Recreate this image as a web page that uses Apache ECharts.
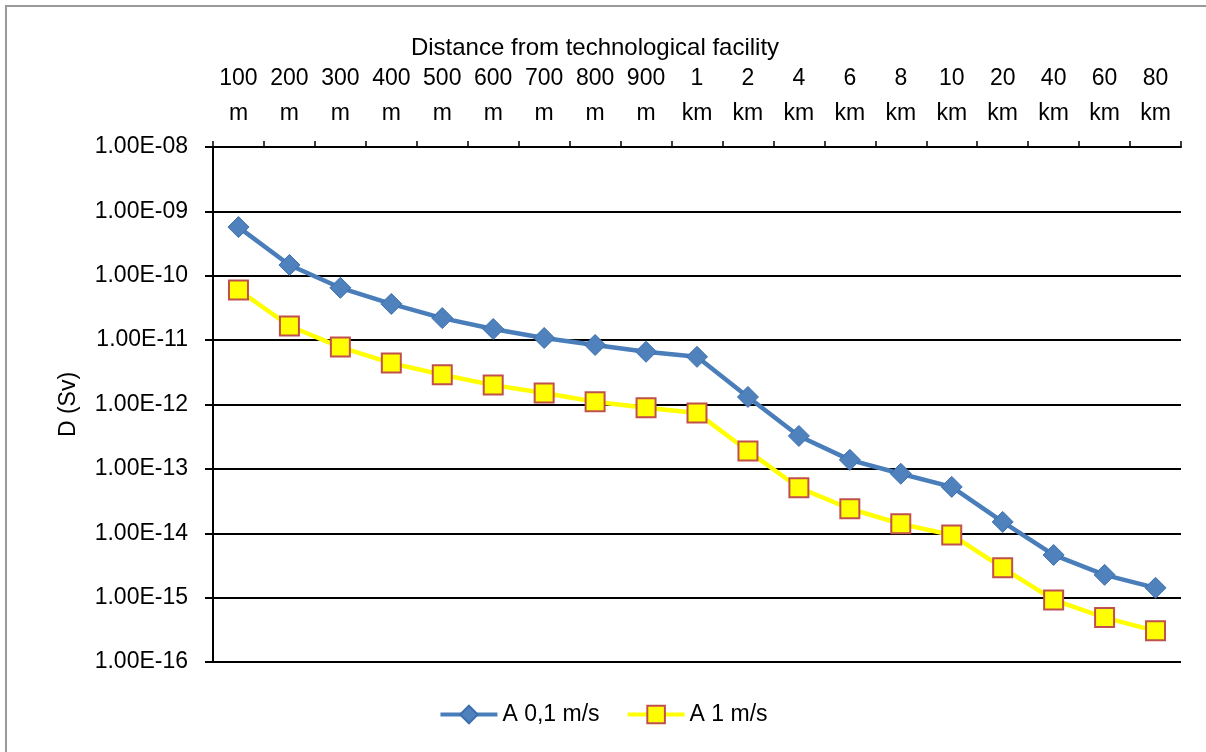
<!DOCTYPE html>
<html>
<head>
<meta charset="utf-8">
<script src="https://cdn.jsdelivr.net/npm/echarts@6/dist/echarts.min.js"></script>
<style>
  html, body { margin: 0; padding: 0; background: #fff; }
  #frame { position: absolute; left: 5px; top: 5px; width: 1201px; height: 747px;
           border-top: 2px solid #9a9a9a; border-left: 2px solid #9a9a9a; box-sizing: border-box; }
  #chart { position: absolute; left: 0; top: 0; width: 1206px; height: 752px; }
</style>
</head>
<body>
<div id="frame"></div>
<div id="chart"></div>
<script>
// Distances from the facility (top category axis)
const distances = ['100\nm', '200\nm', '300\nm', '400\nm', '500\nm', '600\nm', '700\nm', '800\nm', '900\nm',
  '1\nkm', '2\nkm', '4\nkm', '6\nkm', '8\nkm', '10\nkm', '20\nkm', '40\nkm', '60\nkm', '80\nkm'];

// Dose D (Sv) at wind speed 0,1 m/s
const doseSlowWind = [5.7e-10, 1.47e-10, 6.5e-11, 3.65e-11, 2.2e-11, 1.49e-11, 1.08e-11, 8.4e-12, 6.6e-12,
  5.5e-12, 1.31e-12, 3.25e-13, 1.38e-13, 8.4e-14, 5.25e-14, 1.5e-14, 4.6e-15, 2.26e-15, 1.42e-15];

// Dose D (Sv) at wind speed 1 m/s
const doseFastWind = [6.0e-11, 1.66e-11, 7.8e-12, 4.4e-12, 2.9e-12, 2.0e-12, 1.51e-12, 1.1e-12, 8.9e-13,
  7.4e-13, 1.9e-13, 5.1e-14, 2.4e-14, 1.4e-14, 9.4e-15, 2.9e-15, 9.2e-16, 4.9e-16, 3.05e-16];

const seriesNames = ['A 0,1 m/s', 'A 1 m/s'];

const FONT = '"Liberation Sans", "DejaVu Sans", sans-serif';
const FS = 23;

function sciLabel(v) {
  const e = Math.round(Math.log10(v));
  const a = Math.abs(e);
  return '1.00E' + (e < 0 ? '-' : '+') + (a < 10 ? '0' + a : String(a));
}

const chart = echarts.init(document.getElementById('chart'));
chart.setOption({
  animation: false,
  backgroundColor: 'transparent',
  textStyle: { fontFamily: FONT },
  title: {
    text: 'Distance from technological facility',
    left: 590, top: 31, textAlign: 'center',
    textStyle: { fontFamily: FONT, fontSize: 24, fontWeight: 'normal', color: '#000' }
  },
  grid: { left: 213, top: 147, right: 25, bottom: 90 },
  legend: {
    bottom: 21, left: 'center',
    itemWidth: 57, itemHeight: 22, itemGap: 26,
    textStyle: { fontFamily: FONT, fontSize: FS, color: '#000' },
    data: [
      { name: seriesNames[0], lineStyle: { width: 4 } },
      { name: seriesNames[1], lineStyle: { width: 4 } }
    ]
  },
  xAxis: {
    type: 'category',
    position: 'top',
    data: distances,
    axisLine: { lineStyle: { color: '#000', width: 2 } },
    axisTick: { show: true, length: 6, lineStyle: { color: '#000', width: 1.5 } },
    axisLabel: { interval: 0, margin: 16, lineHeight: 35, fontSize: FS, color: '#000', fontFamily: FONT },
    splitLine: { show: false }
  },
  yAxis: {
    type: 'log',
    logBase: 10,
    min: 1e-16,
    max: 1e-8,
    name: 'D (Sv)',
    nameLocation: 'middle',
    nameGap: 133,
    nameTextStyle: { fontSize: FS, color: '#000', fontFamily: FONT },
    axisLine: { show: true, lineStyle: { color: '#000', width: 2 } },
    axisTick: { show: true, length: 8, lineStyle: { color: '#000', width: 2 } },
    axisLabel: { formatter: sciLabel, margin: 25, fontSize: FS, color: '#000', fontFamily: FONT },
    splitLine: { show: true, lineStyle: { color: '#000', width: 2 } }
  },
  series: [
    {
      name: seriesNames[0],
      type: 'line',
      data: doseSlowWind,
      symbol: 'diamond',
      symbolSize: 21,
      lineStyle: { color: '#4a7ebb', width: 4.5 },
      itemStyle: { color: '#4f81bd', borderColor: '#3d6fae', borderWidth: 1 },
      z: 3
    },
    {
      name: seriesNames[1],
      type: 'line',
      data: doseFastWind,
      symbol: 'rect',
      symbolSize: 19,
      lineStyle: { color: '#ffff00', width: 4.5 },
      itemStyle: { color: '#ffff00', borderColor: '#c0504d', borderWidth: 2 },
      z: 2
    }
  ]
});
</script>
</body>
</html>
